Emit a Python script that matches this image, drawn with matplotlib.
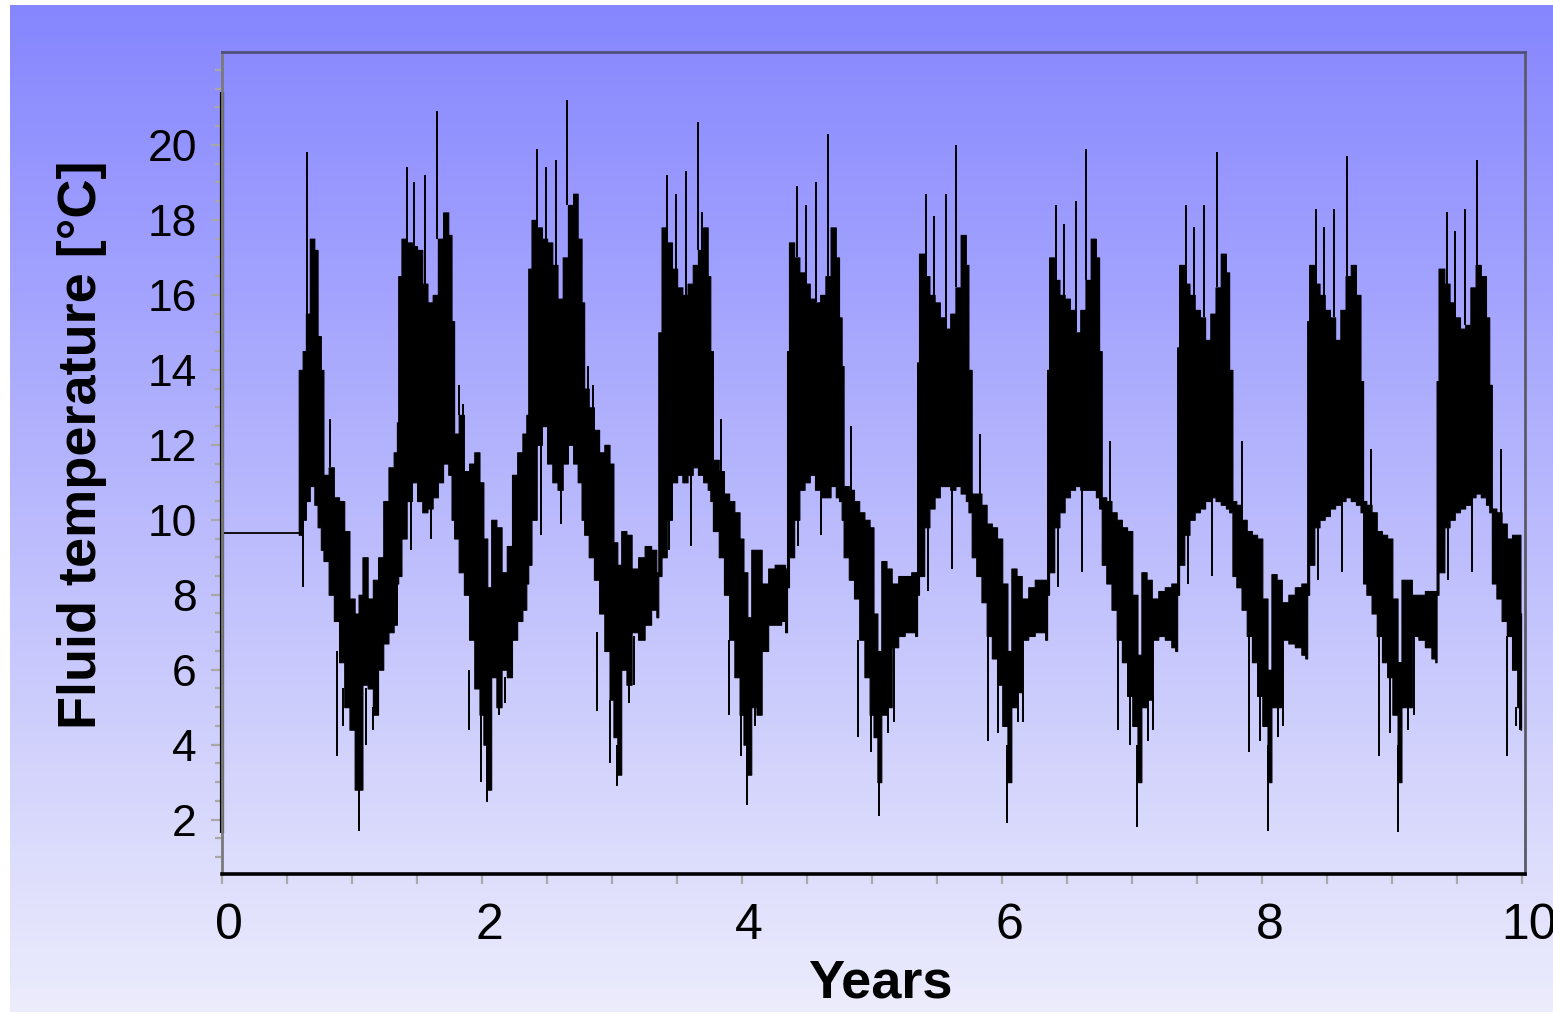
import numpy as np
import matplotlib.pyplot as plt
from matplotlib.ticker import MultipleLocator
from matplotlib.transforms import ScaledTranslation

plt.rcParams['font.family'] = ['Liberation Sans', 'DejaVu Sans']

# constant start value and the first transient at t=0
flat_x = [0.0, 0.59]
flat_y = [9.65, 9.65]
start_lo, start_hi = 1.65, 21.4

# envelope of the dense signal (years, lower / upper temperature)
env_x = [0.59, 0.62, 0.645, 0.675, 0.71, 0.735, 0.76, 0.78, 0.82, 0.86, 0.90, 0.94, 0.98, 1.02, 1.05, 1.08, 1.12, 1.16, 1.20, 1.24, 1.28, 1.32, 1.345,
         1.355, 1.38, 1.42, 1.46, 1.50, 1.54, 1.58, 1.62, 1.66, 1.70, 1.74, 1.765, 1.785, 1.82, 1.86, 1.90, 1.94, 1.98, 2.01, 2.04, 2.07, 2.11, 2.15, 2.19, 2.23, 2.27, 2.31, 2.34,
         2.355, 2.38, 2.42, 2.46, 2.50, 2.54, 2.58, 2.62, 2.66, 2.70, 2.735, 2.765, 2.785, 2.82, 2.86, 2.90, 2.94, 2.98, 3.01, 3.04, 3.07, 3.11, 3.15, 3.20, 3.25, 3.30, 3.34,
         3.355, 3.38, 3.42, 3.46, 3.50, 3.54, 3.58, 3.62, 3.66, 3.70, 3.735, 3.755, 3.775, 3.82, 3.86, 3.90, 3.94, 3.98, 4.01, 4.04, 4.07, 4.11, 4.15, 4.20, 4.25, 4.30, 4.33,
         4.345, 4.36, 4.40, 4.44, 4.48, 4.52, 4.56, 4.60, 4.64, 4.68, 4.72, 4.745, 4.765, 4.78, 4.82, 4.86, 4.90, 4.94, 4.98, 5.01, 5.04, 5.07, 5.11, 5.15, 5.20, 5.25, 5.30, 5.33,
         5.345, 5.36, 5.40, 5.44, 5.48, 5.52, 5.56, 5.60, 5.64, 5.68, 5.72, 5.74, 5.765, 5.80, 5.84, 5.88, 5.92, 5.96, 6.00, 6.04, 6.07, 6.11, 6.15, 6.20, 6.25, 6.30, 6.33,
         6.345, 6.36, 6.40, 6.44, 6.48, 6.52, 6.56, 6.60, 6.64, 6.68, 6.72, 6.745, 6.765, 6.80, 6.84, 6.88, 6.92, 6.96, 7.00, 7.04, 7.07, 7.11, 7.15, 7.20, 7.25, 7.30, 7.33,
         7.345, 7.36, 7.40, 7.44, 7.48, 7.52, 7.56, 7.60, 7.64, 7.68, 7.72, 7.745, 7.77, 7.80, 7.84, 7.88, 7.92, 7.96, 8.00, 8.04, 8.07, 8.11, 8.15, 8.20, 8.25, 8.30, 8.33,
         8.345, 8.36, 8.40, 8.44, 8.48, 8.52, 8.56, 8.60, 8.64, 8.68, 8.72, 8.755, 8.775, 8.80, 8.84, 8.88, 8.92, 8.96, 9.00, 9.04, 9.07, 9.11, 9.15, 9.20, 9.25, 9.30, 9.33,
         9.34, 9.355, 9.40, 9.44, 9.48, 9.52, 9.56, 9.60, 9.64, 9.68, 9.72, 9.745, 9.765, 9.80, 9.84, 9.88, 9.92, 9.96, 9.985, 9.99]
env_lo = [9.6, 10.0, 10.5, 10.9, 10.4, 9.8, 9.2, 8.9, 8.0, 7.3, 6.2, 5.0, 4.4, 2.8, 2.8, 5.6, 5.5, 4.8, 6.0, 6.7, 7.0, 7.2, 8.3,
          8.5, 9.5, 10.5, 11.0, 10.5, 10.2, 10.3, 10.6, 11.0, 11.5, 11.2, 10.0, 9.5, 8.6, 8.0, 6.8, 5.5, 4.8, 4.0, 2.8, 5.8, 5.0, 6.0, 5.8, 6.8, 7.3, 7.6, 8.3,
          8.8, 10.0, 12.0, 12.5, 11.5, 11.0, 10.8, 11.5, 12.0, 11.5, 11.0, 10.0, 9.6, 9.0, 8.4, 7.5, 6.5, 5.2, 4.2, 3.2, 6.0, 5.6, 7.0, 6.8, 7.2, 7.6, 7.4,
          8.5, 9.0, 10.0, 11.0, 11.2, 11.0, 11.2, 11.4, 11.2, 11.0, 10.8, 10.5, 9.7, 9.0, 8.0, 6.8, 5.8, 4.8, 4.0, 3.2, 5.0, 4.8, 6.5, 7.2, 7.2, 7.3, 7.0,
          8.2, 9.0, 10.0, 10.8, 11.0, 11.2, 10.8, 10.6, 10.6, 10.9, 10.6, 10.5, 10.0, 9.0, 8.4, 7.9, 6.8, 5.8, 4.8, 4.2, 3.0, 4.8, 5.0, 6.6, 6.9, 7.0, 7.0, 6.9,
          8.0, 8.5, 9.8, 10.3, 10.6, 10.9, 10.9, 10.8, 10.9, 10.7, 10.5, 10.2, 9.0, 8.5, 7.8, 6.9, 6.3, 5.6, 4.5, 3.0, 5.0, 5.4, 6.8, 6.9, 7.0, 7.0, 6.8,
          8.0, 8.6, 9.8, 10.2, 10.6, 10.8, 10.9, 10.8, 10.8, 10.8, 10.6, 10.3, 8.8, 8.3, 7.6, 6.8, 6.2, 5.3, 4.5, 3.0, 5.0, 5.2, 6.8, 6.9, 6.8, 6.6, 6.5,
          8.0, 8.8, 9.6, 10.0, 10.2, 10.3, 10.5, 10.6, 10.5, 10.4, 10.3, 10.2, 8.5, 8.2, 7.6, 6.9, 6.2, 5.3, 4.5, 3.0, 5.0, 5.0, 6.8, 6.7, 6.6, 6.4, 6.3,
          8.0, 8.8, 9.8, 10.0, 10.1, 10.3, 10.4, 10.5, 10.6, 10.5, 10.4, 10.2, 8.3, 8.0, 7.5, 6.9, 6.2, 5.8, 4.8, 3.0, 5.0, 5.0, 6.9, 6.8, 6.6, 6.3, 6.2,
          8.0, 8.6, 9.8, 10.0, 10.2, 10.3, 10.4, 10.6, 10.7, 10.6, 10.4, 10.2, 8.3, 7.9, 7.3, 6.9, 6.0, 5.0, 4.4, 4.4]
env_hi = [14.0, 14.5, 15.5, 17.5, 17.2, 14.9, 14.0, 11.2, 11.4, 10.6, 10.5, 9.7, 7.9, 7.5, 8.0, 9.0, 7.9, 8.4, 9.0, 10.5, 11.4, 11.8, 12.6,
          16.5, 17.5, 17.4, 17.3, 17.2, 16.3, 15.8, 16.0, 17.5, 18.2, 17.6, 15.3, 12.3, 12.8, 11.3, 11.5, 11.8, 11.0, 9.5, 8.2, 10.0, 9.8, 8.6, 9.3, 11.2, 11.8, 12.3, 12.8,
          16.7, 18.0, 17.8, 17.5, 17.4, 16.8, 15.9, 17.0, 18.4, 18.7, 17.5, 15.8, 13.5, 13.0, 12.4, 11.8, 12.0, 11.5, 9.4, 8.8, 9.7, 9.6, 8.7, 9.0, 9.3, 9.2, 8.6,
          15.0, 17.8, 17.4, 16.7, 16.2, 16.0, 16.3, 16.8, 17.2, 17.8, 16.5, 14.5, 11.6, 11.3, 10.7, 10.5, 10.2, 9.5, 8.6, 7.4, 9.2, 9.2, 8.3, 8.7, 8.8, 8.8, 8.7,
          14.5, 17.4, 17.0, 16.6, 16.3, 15.9, 15.8, 16.0, 16.5, 17.8, 17.0, 15.4, 14.1, 10.9, 10.8, 10.5, 10.2, 10.0, 9.8, 7.5, 6.5, 8.9, 8.7, 8.3, 8.5, 8.5, 8.6, 8.6,
          14.2, 17.1, 16.5, 16.0, 15.8, 15.4, 15.1, 15.5, 16.2, 17.6, 16.8, 14.0, 10.7, 10.7, 10.4, 9.9, 9.8, 9.5, 8.3, 6.5, 8.7, 8.5, 7.9, 8.2, 8.4, 8.4, 8.4,
          14.0, 17.0, 16.4, 16.0, 15.9, 15.6, 15.0, 15.6, 16.4, 17.5, 17.0, 14.5, 10.6, 10.5, 10.2, 10.0, 9.8, 9.7, 8.0, 6.4, 8.6, 8.4, 7.9, 8.1, 8.2, 8.3, 8.3,
          14.6, 16.8, 16.3, 16.0, 15.6, 15.4, 14.8, 15.5, 16.2, 17.1, 16.6, 14.0, 10.5, 10.4, 10.0, 9.7, 9.6, 9.5, 7.9, 6.0, 8.55, 8.4, 7.8, 8.0, 8.2, 8.3, 8.3,
          15.3, 16.8, 16.3, 16.0, 15.6, 15.4, 14.8, 15.6, 16.5, 16.8, 16.0, 13.7, 10.5, 10.4, 10.2, 9.7, 9.6, 9.5, 7.9, 6.2, 8.4, 8.4, 8.0, 8.0, 8.1, 8.1, 8.1,
          13.7, 16.7, 16.3, 15.8, 15.4, 15.1, 15.2, 16.2, 16.8, 16.5, 15.4, 13.6, 10.3, 10.2, 9.9, 9.5, 9.6, 9.6, 7.5, 7.5]

# upward spikes: position, tip, base
up_x = [0.656, 1.42, 1.475, 1.56, 1.656, 2.426, 2.49, 2.567, 2.656, 3.425, 3.49, 3.566, 3.659, 3.69,
        4.42, 4.49, 4.566, 4.659, 5.415, 5.476, 5.566, 5.646, 6.415, 6.476, 6.57, 6.646,
        7.416, 7.477, 7.554, 7.652, 8.416, 8.477, 8.554, 8.652, 9.42, 9.485, 9.56, 9.65,
        0.83, 1.82, 1.855, 2.815, 2.85, 3.84, 4.84, 5.83, 6.83, 7.84, 8.836, 9.835]
up_top = [19.8, 19.4, 19.0, 19.2, 20.9, 19.9, 19.4, 19.6, 21.2, 19.2, 18.7, 19.3, 20.6, 18.2,
          18.9, 18.4, 19.0, 20.3, 18.7, 18.1, 18.7, 20.0, 18.4, 17.9, 18.5, 19.9,
          18.4, 17.8, 18.4, 19.8, 18.3, 17.8, 18.3, 19.7, 18.2, 17.7, 18.3, 19.6,
          12.7, 13.6, 13.1, 14.1, 13.6, 12.7, 12.5, 12.3, 12.1, 12.1, 11.9, 11.9]
up_base = [15.5, 17.4, 17.3, 16.3, 17.5, 17.8, 17.4, 16.8, 18.4, 17.4, 16.7, 16.0, 17.2, 17.2,
           17.0, 16.3, 15.8, 16.5, 16.5, 15.8, 15.1, 16.2, 16.4, 15.9, 15.0, 16.4,
           16.3, 15.6, 15.4, 16.2, 16.3, 15.6, 15.4, 16.5, 16.3, 15.4, 15.2, 16.8,
           11.4, 12.8, 11.3, 13.0, 12.4, 11.3, 10.8, 10.4, 10.2, 10.0, 10.2, 9.9]

# downward spikes: position, tip, base
dn_x = [1.05, 2.04, 3.04, 4.04, 5.05, 6.04, 7.04, 8.04, 9.04,
        0.62, 0.885, 0.93, 1.11, 1.16,
        1.45, 1.61, 1.90, 1.995, 2.13, 2.18,
        2.45, 2.61, 2.88, 2.98, 3.13, 3.17,
        3.44, 3.61, 3.90, 3.99, 4.10, 4.14,
        4.43, 4.61, 4.89, 4.99, 5.12, 5.17,
        5.43, 5.61, 5.89, 5.97, 6.12, 6.16,
        6.43, 6.61, 6.89, 6.98, 7.12, 7.16,
        7.43, 7.61, 7.895, 7.98, 8.12, 8.16,
        8.43, 8.61, 8.90, 8.98, 9.12, 9.165,
        9.43, 9.61, 9.88, 9.95, 9.98]
dn_bot = [1.7, 2.46, 2.9, 2.4, 2.1, 1.9, 1.8, 1.7, 1.68,
          8.2, 3.7, 4.5, 4.0, 4.4,
          9.2, 9.5, 4.4, 3.0, 4.8, 5.1,
          9.6, 9.9, 4.9, 3.5, 5.1, 5.6,
          9.2, 9.3, 4.8, 3.7, 4.5, 4.8,
          9.3, 9.6, 4.2, 3.8, 4.3, 4.6,
          8.1, 8.7, 4.1, 4.3, 4.6, 4.6,
          8.2, 8.6, 4.4, 4.0, 4.1, 4.4,
          8.3, 8.5, 3.8, 4.1, 4.2, 4.5,
          8.4, 8.6, 3.7, 4.3, 4.4, 4.8,
          8.4, 8.6, 3.7, 4.5, 4.4]
dn_base = [4.0, 4.0, 4.0, 4.0, 4.0, 4.0, 4.0, 4.0, 4.0,
           10.0, 6.5, 5.5, 5.5, 5.0,
           10.8, 10.6, 6.0, 4.8, 6.0, 5.8,
           12.5, 11.5, 7.0, 5.2, 5.6, 6.9,
           10.0, 11.4, 6.8, 4.8, 5.0, 6.5,
           10.8, 10.6, 6.8, 4.8, 5.0, 6.6,
           10.3, 10.8, 6.9, 5.6, 5.4, 6.8,
           10.2, 10.8, 6.8, 5.3, 5.2, 6.8,
           10.0, 10.6, 6.9, 5.3, 5.0, 6.8,
           10.0, 10.5, 6.9, 5.8, 5.0, 6.9,
           10.0, 10.6, 6.9, 5.0, 5.0]

W, H = 1553, 1014
fig = plt.figure(figsize=(W / 100, H / 100), dpi=100)
fig.patch.set_facecolor('white')

# blue-to-lavender gradient behind everything
bg = fig.add_axes([10 / W, 2 / H, 1 - 10 / W, 1 - 7 / H], zorder=-1)
t = np.linspace(0, 1, 256)[:, None, None]
top_c = np.array([134, 134, 255]) / 255
bot_c = np.array([236, 236, 252]) / 255
bg.imshow(top_c * (1 - t) + bot_c * t, aspect='auto', extent=[0, 1, 0, 1])
bg.axis('off')

ax = fig.add_axes([222 / W, 1 - 874 / H, (1525 - 222) / W, (874 - 52) / H])
ax.patch.set_alpha(0)

ax.plot(flat_x, flat_y, color='black', lw=1.3)
ax.vlines([0.0], start_lo, start_hi, color='black', lw=3, clip_on=False)
ax.fill_between(env_x, env_lo, env_hi, step='post', color='black', lw=0.8)
ax.vlines(up_x, up_base, up_top, color='black', lw=1.4)
ax.vlines(dn_x, dn_bot, dn_base, color='black', lw=1.4)

ax.set_xlim(0, 10.02)
ax.set_ylim(0.55, 22.48)
ax.set_xticks(range(0, 11, 2))
ax.xaxis.set_minor_locator(MultipleLocator(0.5))
ax.set_yticks(range(2, 21, 2))
ax.yaxis.set_minor_locator(MultipleLocator(0.5))
ax.tick_params(which='both', direction='out', color='#a8a8a8', width=1.6)
ax.tick_params(axis='x', which='both', length=7, labelsize=36, pad=14)
ax.tick_params(axis='y', which='major', length=8, labelsize=32, pad=10)
ax.tick_params(axis='y', which='minor', length=5)
shift = ScaledTranslation(7 / 100, 0, fig.dpi_scale_trans)
for lab in ax.get_xticklabels():
    lab.set_transform(lab.get_transform() + shift)

ax.spines['bottom'].set(color='black', lw=2.6)
ax.spines['left'].set(color='#7a7a7a', lw=2)
ax.spines['top'].set(color='#50507a', lw=2)
ax.spines['right'].set(color='#5a5a66', lw=2)

ax.set_xlabel('Years', fontsize=39, fontweight='bold')
ax.set_ylabel('Fluid temperature [°C]', fontsize=39, fontweight='bold')
ax.xaxis.set_label_coords(0.505, -0.103)
ax.yaxis.set_label_coords(-0.088, 0.522)

fig.savefig('out.png', dpi=100)
